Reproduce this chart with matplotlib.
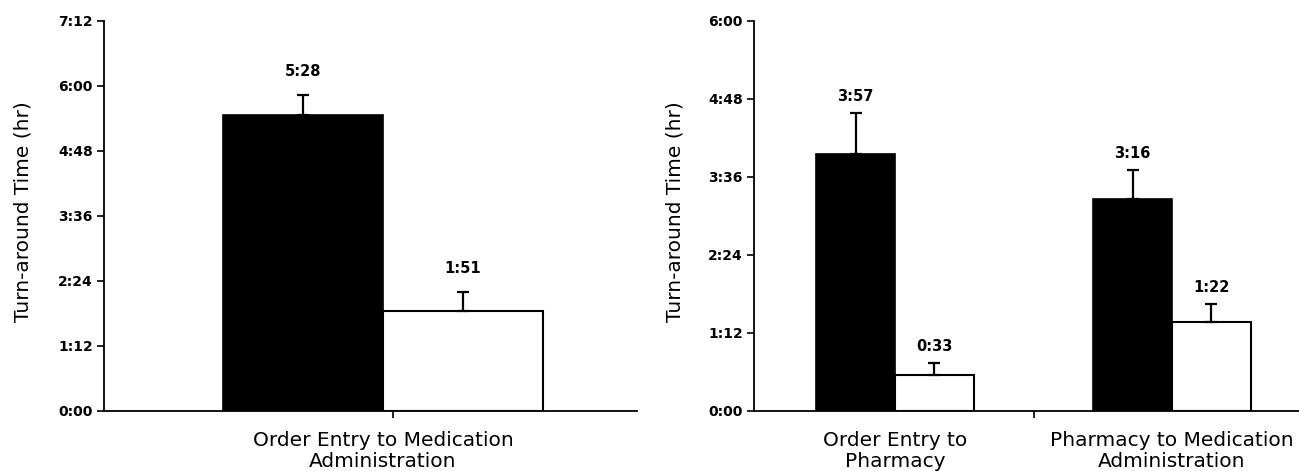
import numpy as np
import matplotlib
matplotlib.use('Agg')
import matplotlib.pyplot as plt
from matplotlib.ticker import FuncFormatter, FixedLocator

# turn-around times in minutes
leftCats = ['Order Entry to Medication\nAdministration']
leftBefore = [328]
leftAfter = [111]
leftBeforeErr = [22]
leftAfterErr = [21]

rightCats = ['Order Entry to\nPharmacy', 'Pharmacy to Medication\nAdministration']
rightBefore = [237, 196]
rightAfter = [33, 82]
rightBeforeErr = [38, 26]
rightAfterErr = [11, 17]


def hhmm(m, pos=None):
    m = int(round(m))
    return '{}:{:02d}'.format(m // 60, m % 60)


def drawPanel(ax, cats, before, after, errB, errA, width, ymax, xlim, labelOffset, ylabelX):
    x = np.arange(len(cats))
    xb = x - width / 2
    xa = x + width / 2
    ax.bar(xb, before, width, color='black', edgecolor='black', linewidth=1.2, zorder=2)
    ax.bar(xa, after, width, color='white', edgecolor='black', linewidth=1.5, zorder=2)
    ax.errorbar(xb, before, yerr=[np.zeros(len(errB)), errB], fmt='none',
                ecolor='black', elinewidth=1.6, capsize=4, capthick=1.6, zorder=3)
    ax.errorbar(xa, after, yerr=[np.zeros(len(errA)), errA], fmt='none',
                ecolor='black', elinewidth=1.6, capsize=4, capthick=1.6, zorder=3)

    # value labels above the error bars
    for xi, v, e in zip(list(xb) + list(xa), list(before) + list(after), list(errB) + list(errA)):
        ax.annotate(hhmm(v), (xi, v + e), xytext=(0, labelOffset), textcoords='offset points',
                    ha='center', va='center', fontsize=10.5, fontweight='bold')

    ax.set_ylim(0, ymax)
    ax.set_xlim(*xlim)
    ax.yaxis.set_major_locator(FixedLocator(np.arange(0, ymax + 1, 72)))
    ax.yaxis.set_major_formatter(FuncFormatter(hhmm))
    for t in ax.get_yticklabels():
        t.set_fontweight('bold')
    ax.tick_params(axis='y', direction='out', length=5, width=1.2, labelsize=10, pad=3)

    ax.set_xticks(x)
    ax.set_xticklabels(cats, fontsize=14.5, linespacing=1.1)
    ax.tick_params(axis='x', which='major', length=0, pad=14.5)
    ax.tick_params(axis='x', which='minor', direction='out', length=5, width=1.2)

    for s in ['top', 'right']:
        ax.spines[s].set_visible(False)
    ax.spines['left'].set_linewidth(1.3)
    ax.spines['bottom'].set_linewidth(1.3)
    ax.set_ylabel('Turn-around Time (hr)', fontsize=14.5)
    ax.yaxis.set_label_coords(ylabelX, 0.51)


fig = plt.figure(figsize=(12.99, 4.71), dpi=100)
W, H = 1299.0, 471.0

axL = fig.add_axes([104 / W, 1 - 411 / H, (637 - 104) / W, (411 - 20.7) / H])
drawPanel(axL, leftCats, leftBefore, leftAfter, leftBeforeErr, leftAfterErr,
          1.0, 432, ((104 - 383) / 160.0, (637 - 383) / 160.0), 17, -0.135)
axL.xaxis.set_minor_locator(FixedLocator([0.06]))

axR = fig.add_axes([754 / W, 1 - 411 / H, (1299 - 754) / W, (411 - 20.7) / H])
drawPanel(axR, rightCats, rightBefore, rightAfter, rightBeforeErr, rightAfterErr,
          0.285, 360, ((754 - 895) / 277.0, (1299 - 895) / 277.0), 12, -0.127)
axR.xaxis.set_minor_locator(FixedLocator([0.5]))

fig.savefig('out.png', dpi=100)
